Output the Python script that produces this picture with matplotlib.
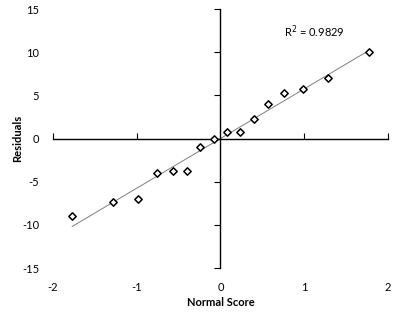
import numpy as np
import matplotlib
matplotlib.use('Agg')
import matplotlib.pyplot as plt

plt.rcParams['font.family'] = ['Lato', 'DejaVu Sans']
plt.rcParams['axes.unicode_minus'] = False

# normal scores and residuals
normal_score = [-1.77, -1.28, -0.99, -0.76, -0.57, -0.40, -0.24, -0.08,
                0.08, 0.24, 0.40, 0.57, 0.76, 0.99, 1.28, 1.77]
residuals = [-9.0, -7.3, -7.05, -4.0, -3.8, -3.8, -1.0, 0.0,
             0.8, 0.8, 2.3, 4.0, 5.3, 5.8, 7.0, 10.0]
r2_label = 'R$^2$ = 0.9829'
x_ticks = [-2, -1, 0, 1, 2]
y_ticks = [-15, -10, -5, 0, 5, 10, 15]

x = np.array(normal_score)
y = np.array(residuals)
slope, icpt = np.polyfit(x, y, 1)
xfit = np.array([x.min(), x.max()])

fig = plt.figure(figsize=(4.17, 3.25), dpi=100)
pos = [0.127, 0.175, 0.803, 0.797]

# axes lines crossing at zero, with tick marks only
ax = fig.add_axes(pos)
ax.set_xlim(-2, 2); ax.set_ylim(-15, 15)
ax.spines['left'].set_position(('data', 0))
ax.spines['bottom'].set_position(('data', 0))
ax.spines['top'].set_visible(False); ax.spines['right'].set_visible(False)
for s in ('left', 'bottom'):
    ax.spines[s].set_linewidth(1.0)
ax.set_xticks([t for t in x_ticks if t != 0])
ax.set_yticks(y_ticks)
ax.tick_params(axis='x', direction='in', length=4, width=0.8, labelbottom=False)
ax.tick_params(axis='y', direction='out', length=4, width=0.8, labelleft=False)
ax.patch.set_visible(False)

ax.plot(xfit, slope * xfit + icpt, color='#7f7f7f', lw=0.7, zorder=2)
ax.scatter(x, y, marker='D', s=14, facecolor='white', edgecolor='black',
           linewidth=1.1, zorder=3)
ax.text(1.12, 12.4, r2_label, fontsize=8, ha='center', va='center')

# overlay axes carrying tick labels at the plot edges (Excel "low" labels)
lab = fig.add_axes(pos, frameon=False)
lab.set_xlim(-2, 2); lab.set_ylim(-15, 15)
lab.set_xticks(x_ticks); lab.set_yticks(y_ticks)
lab.tick_params(length=0, labelsize=8, pad=10)
lab.set_xlabel('Normal Score', fontsize=8, fontweight='bold')
lab.set_ylabel('Residuals', fontsize=8, fontweight='bold')
lab.xaxis.set_label_coords(0.5, -0.11)
lab.yaxis.set_label_coords(-0.088, 0.5)
lab.patch.set_visible(False)

fig.savefig('out.png', dpi=100)
